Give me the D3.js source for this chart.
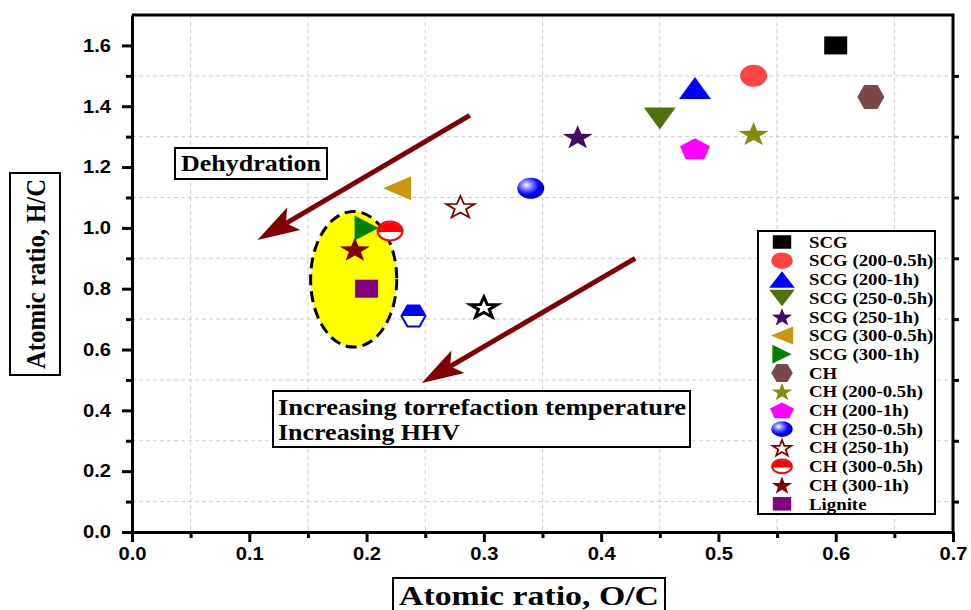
<!DOCTYPE html>
<html>
<head>
<meta charset="utf-8">
<script src="https://cdn.jsdelivr.net/npm/d3@7"></script>
<style>
  body { margin: 0; background: #fff; }
  svg { display: block; }
</style>
</head>
<body>
<svg id="chart" width="971" height="610"></svg>
<script>
// ---- data -------------------------------------------------------------
const seriesNames = [
  "SCG", "SCG (200-0.5h)", "SCG (200-1h)", "SCG (250-0.5h)", "SCG (250-1h)",
  "SCG (300-0.5h)", "SCG (300-1h)", "CH", "CH (200-0.5h)", "CH (200-1h)",
  "CH (250-0.5h)", "CH (250-1h)", "CH (300-0.5h)", "CH (300-1h)", "Lignite"
];
const ocRatio = [0.60, 0.53, 0.48, 0.45, 0.38, 0.226, 0.20, 0.63, 0.53, 0.48, 0.34, 0.28, 0.22, 0.19, 0.20];
const hcRatio = [1.60, 1.50, 1.46, 1.36, 1.30, 1.13, 1.00, 1.43, 1.31, 1.26, 1.13, 1.07, 0.99, 0.93, 0.80];

// two further samples plotted without a legend entry
const extraOC = [0.24, 0.30];
const extraHC = [0.71, 0.74];

const xTicks = [0.0, 0.1, 0.2, 0.3, 0.4, 0.5, 0.6, 0.7];
const yTicks = [0.0, 0.2, 0.4, 0.6, 0.8, 1.0, 1.2, 1.4, 1.6];
const xMinor = [0.05, 0.15, 0.25, 0.35, 0.45, 0.55, 0.65];
const yMinor = [0.1, 0.3, 0.5, 0.7, 0.9, 1.1, 1.3, 1.5];

// annotation geometry in data units
const arrowFrom = [[0.288, 1.37], [0.429, 0.90]];
const arrowTo   = [[0.107, 0.96], [0.247, 0.49]];
const regionCenter = [0.189, 0.831];
const regionRadius = [0.0367, 0.223];

// ---- marker styles ------------------------------------------------------
const DARKRED = "#800000";
const markerStyle = [
  { shape: "square",   fill: "#000000" },
  { shape: "circle",   fill: "#ff4444" },
  { shape: "triUp",    fill: "#0000ff" },
  { shape: "triDown",  fill: "#4f7210" },
  { shape: "star",     fill: "#3f0b63" },
  { shape: "triLeft",  fill: "#c9960f" },
  { shape: "triRight", fill: "#008000" },
  { shape: "hex",      fill: "#7a4848" },
  { shape: "star",     fill: "#878a0e" },
  { shape: "pent",     fill: "#ff00ff" },
  { shape: "sphere",   fill: "#0000ff" },
  { shape: "starOpen", fill: "#ffffff", stroke: DARKRED },
  { shape: "halfCircle", fill: "#ff0000" },
  { shape: "star",     fill: DARKRED },
  { shape: "square",   fill: "#800080" }
];
const extraStyle = [
  { shape: "halfHex",  fill: "#0000ff" },
  { shape: "starOpen", fill: "#ffffff", stroke: "#000000", sw: 3 }
];
const shapeSize = {
  square: [23, 18], circle: [27, 22], triUp: [32, 22], triDown: [32, 22],
  star: [30, 23], starOpen: [30, 23], triLeft: [28, 24], triRight: [24, 25],
  hex: [27, 24], pent: [30, 21], sphere: [27, 21], halfCircle: [27, 21],
  halfHex: [26, 23]
};

// ---- layout -------------------------------------------------------------
const plot = { left: 132, right: 953, top: 15, bottom: 532 };
const svg = d3.select("#chart");
const x = d3.scaleLinear().domain([0, 0.7]).range([plot.left, plot.right]);
const y = d3.scaleLinear().domain([0, 1.7]).range([plot.bottom, plot.top]);

const SERIF = "'Liberation Serif', 'Times New Roman', serif";
const SANS = "'Liberation Sans', Arial, sans-serif";

function stretch(sel, f) {
  sel.each(function () {
    const w = this.getComputedTextLength();
    this.setAttribute("textLength", w * f);
    this.setAttribute("lengthAdjust", "spacingAndGlyphs");
  });
}

// polygon fitted into a w x h box centred on 0,0
function fitPolygon(pts, w, h) {
  const xs = pts.map(p => p[0]), ys = pts.map(p => p[1]);
  const x0 = d3.min(xs), x1 = d3.max(xs), y0 = d3.min(ys), y1 = d3.max(ys);
  return pts.map(p => [
    ((p[0] - x0) / (x1 - x0) - 0.5) * w,
    ((p[1] - y0) / (y1 - y0) - 0.5) * h
  ]);
}
function polyPath(pts) {
  return "M" + pts.map(p => p[0].toFixed(2) + "," + p[1].toFixed(2)).join("L") + "Z";
}
function starPoints() {
  const pts = [];
  for (let i = 0; i < 10; i++) {
    const r = i % 2 === 0 ? 1 : 0.4;
    const a = -Math.PI / 2 + i * Math.PI / 5;
    pts.push([r * Math.cos(a), r * Math.sin(a)]);
  }
  return pts;
}
function pentPoints() {
  const pts = [];
  for (let i = 0; i < 5; i++) {
    const a = -Math.PI / 2 + i * 2 * Math.PI / 5;
    pts.push([Math.cos(a), Math.sin(a)]);
  }
  return pts;
}
const hexPts = [[-1, 0], [-0.5, -1], [0.5, -1], [1, 0], [0.5, 1], [-0.5, 1]];

// sphere shading
const defs = svg.append("defs");
const grad = defs.append("radialGradient").attr("id", "sphereBlue")
  .attr("cx", "38%").attr("cy", "38%").attr("r", "62%").attr("fx", "33%").attr("fy", "33%");
grad.append("stop").attr("offset", "0%").attr("stop-color", "#ffffff");
grad.append("stop").attr("offset", "28%").attr("stop-color", "#8f8fff");
grad.append("stop").attr("offset", "70%").attr("stop-color", "#0000ff");
grad.append("stop").attr("offset", "100%").attr("stop-color", "#0000c8");

function drawMarker(g, style, w, h) {
  const s = style.shape;
  if (s === "square") {
    g.append("rect").attr("x", -w / 2).attr("y", -h / 2).attr("width", w).attr("height", h)
      .attr("fill", style.fill);
  } else if (s === "circle") {
    g.append("ellipse").attr("rx", w / 2).attr("ry", h / 2).attr("fill", style.fill);
  } else if (s === "sphere") {
    g.append("ellipse").attr("rx", w / 2).attr("ry", h / 2).attr("fill", "url(#sphereBlue)");
  } else if (s === "halfCircle") {
    const rx = w / 2 - 1, ry = h / 2 - 1;
    g.append("ellipse").attr("rx", rx).attr("ry", ry).attr("fill", "#fff");
    g.append("path").attr("d", `M${-rx},1A${rx},${ry} 0 0 1 ${rx},1Z`).attr("fill", style.fill);
    g.append("ellipse").attr("rx", rx).attr("ry", ry).attr("fill", "none")
      .attr("stroke", style.fill).attr("stroke-width", 2);
  } else if (s === "hex") {
    g.append("path").attr("d", polyPath(fitPolygon(hexPts, w, h))).attr("fill", style.fill);
  } else if (s === "halfHex") {
    const pts = fitPolygon(hexPts, w - 2, h - 2);
    g.append("path").attr("d", polyPath(pts)).attr("fill", "#fff");
    g.append("path").attr("d", polyPath([pts[0], pts[1], pts[2], pts[3]])).attr("fill", style.fill);
    g.append("path").attr("d", polyPath(pts)).attr("fill", "none")
      .attr("stroke", style.fill).attr("stroke-width", 2);
  } else if (s === "pent") {
    g.append("path").attr("d", polyPath(fitPolygon(pentPoints(), w, h))).attr("fill", style.fill);
  } else if (s === "star") {
    g.append("path").attr("d", polyPath(fitPolygon(starPoints(), w, h))).attr("fill", style.fill);
  } else if (s === "starOpen") {
    const sw = style.sw || 1.8;
    g.append("path").attr("d", polyPath(fitPolygon(starPoints(), w - sw, h - sw)))
      .attr("fill", style.fill).attr("stroke", style.stroke).attr("stroke-width", sw)
      .attr("stroke-linejoin", "miter");
  } else {
    let pts;
    if (s === "triUp") pts = [[0, -h / 2], [w / 2, h / 2], [-w / 2, h / 2]];
    if (s === "triDown") pts = [[-w / 2, -h / 2], [w / 2, -h / 2], [0, h / 2]];
    if (s === "triLeft") pts = [[-w / 2, 0], [w / 2, -h / 2], [w / 2, h / 2]];
    if (s === "triRight") pts = [[-w / 2, -h / 2], [w / 2, 0], [-w / 2, h / 2]];
    g.append("path").attr("d", polyPath(pts)).attr("fill", style.fill);
  }
}

// ---- grid (dashed, at the minor positions) -------------------------------
const grid = svg.append("g").attr("stroke", "#cfcfcf").attr("stroke-width", 1)
  .attr("stroke-dasharray", "4,3");
grid.selectAll("line.v").data(xMinor).join("line").attr("class", "v")
  .attr("x1", d => x(d)).attr("x2", d => x(d)).attr("y1", plot.top).attr("y2", plot.bottom);
grid.selectAll("line.h").data(yMinor).join("line").attr("class", "h")
  .attr("y1", d => y(d)).attr("y2", d => y(d)).attr("x1", plot.left).attr("x2", plot.right);

// ---- highlighted region --------------------------------------------------
svg.append("ellipse")
  .attr("cx", x(regionCenter[0])).attr("cy", y(regionCenter[1]))
  .attr("rx", x(regionCenter[0] + regionRadius[0]) - x(regionCenter[0]))
  .attr("ry", y(regionCenter[1]) - y(regionCenter[1] + regionRadius[1]))
  .attr("fill", "#ffff00").attr("stroke", "#000").attr("stroke-width", 3)
  .attr("stroke-dasharray", "11,6");

// ---- arrows ---------------------------------------------------------------
const arrows = svg.append("g");
arrowFrom.forEach((f, i) => {
  const x0 = x(f[0]), y0 = y(f[1]), x1 = x(arrowTo[i][0]), y1 = y(arrowTo[i][1]);
  const len = Math.hypot(x1 - x0, y1 - y0);
  const ux = (x1 - x0) / len, uy = (y1 - y0) / len;
  const px = -uy, py = ux;
  const headLen = 42, halfW = 13, notch = 9;
  const bx = x1 - ux * headLen, by = y1 - uy * headLen;
  arrows.append("line")
    .attr("x1", x0).attr("y1", y0).attr("x2", bx + ux * notch).attr("y2", by + uy * notch)
    .attr("stroke", DARKRED).attr("stroke-width", 5);
  arrows.append("path").attr("fill", DARKRED)
    .attr("d", polyPath([
      [x1, y1],
      [bx + px * halfW, by + py * halfW],
      [bx + ux * notch, by + uy * notch],
      [bx - px * halfW, by - py * halfW]
    ]));
});

// ---- axes ---------------------------------------------------------------
const fmt = d3.format(".1f");
const axL = svg.append("g").attr("transform", `translate(${plot.left},0)`)
  .call(d3.axisLeft(y).tickValues(yTicks).tickFormat(fmt).tickSize(10).tickSizeOuter(0).tickPadding(11));
svg.append("g").attr("transform", `translate(${plot.left},0)`)
  .call(d3.axisLeft(y).tickValues(yMinor).tickFormat("").tickSize(6).tickSizeOuter(0))
  .call(g => g.select(".domain").remove());
const axB = svg.append("g").attr("transform", `translate(0,${plot.bottom})`)
  .call(d3.axisBottom(x).tickValues(xTicks).tickFormat(fmt).tickSize(10).tickSizeOuter(0).tickPadding(5));
svg.append("g").attr("transform", `translate(0,${plot.bottom})`)
  .call(d3.axisBottom(x).tickValues(xMinor).tickFormat("").tickSize(6).tickSizeOuter(0))
  .call(g => g.select(".domain").remove());
svg.append("g").attr("transform", `translate(${plot.right},0)`)
  .call(d3.axisRight(y).tickValues(yMinor).tickFormat("").tickSize(6).tickSizeOuter(0))
  .call(g => g.select(".domain").remove());

svg.selectAll(".tick line").attr("stroke", "#000").attr("stroke-width", 3);
svg.selectAll(".domain").attr("stroke", "#000").attr("stroke-width", 3);
[axL, axB].forEach(a => a.selectAll("text")
  .attr("font-family", SANS).attr("font-weight", "bold").attr("font-size", 18).attr("fill", "#000"));
stretch(axL.selectAll("text"), 1.12);
stretch(axB.selectAll("text"), 1.12);

// frame: top and right edges
svg.append("path")
  .attr("d", `M${plot.left},${plot.top}H${plot.right}V${plot.bottom}`)
  .attr("fill", "none").attr("stroke", "#000").attr("stroke-width", 3);

// ---- points -------------------------------------------------------------
const pts = svg.append("g");
ocRatio.forEach((v, i) => {
  const st = markerStyle[i];
  const [w, h] = shapeSize[st.shape];
  drawMarker(pts.append("g").attr("transform", `translate(${x(v)},${y(hcRatio[i])})`), st, w, h);
});
extraOC.forEach((v, i) => {
  const st = extraStyle[i];
  const [w, h] = shapeSize[st.shape];
  drawMarker(pts.append("g").attr("transform", `translate(${x(v)},${y(extraHC[i])})`), st, w, h);
});

// ---- legend -------------------------------------------------------------
const legend = svg.append("g");
legend.append("rect").attr("x", 758).attr("y", 231).attr("width", 177).attr("height", 283)
  .attr("fill", "#fff").attr("stroke", "#000").attr("stroke-width", 2);
seriesNames.forEach((name, i) => {
  const cy = 242 + i * 18.7;
  const st = markerStyle[i];
  const [w, h] = shapeSize[st.shape];
  const isStar = st.shape.startsWith("star");
  drawMarker(legend.append("g").attr("transform", `translate(782,${cy})`), st,
    w * (isStar ? 0.68 : 0.8), h * 0.75);
  legend.append("text").attr("x", 809).attr("y", cy).attr("dy", "0.35em")
    .attr("font-family", SERIF).attr("font-weight", "bold").attr("font-size", 16.5)
    .attr("fill", "#000").text(name);
});
stretch(legend.selectAll("text"), 1.14);

// ---- annotation boxes -----------------------------------------------------
function textBox(x0, y0, w, h) {
  svg.append("rect").attr("x", x0).attr("y", y0).attr("width", w).attr("height", h)
    .attr("fill", "#fff").attr("stroke", "#000").attr("stroke-width", 2);
}
textBox(175, 148, 152, 31);
svg.append("text").attr("x", 251).attr("y", 171).attr("text-anchor", "middle")
  .attr("font-family", SERIF).attr("font-weight", "bold").attr("font-size", 24)
  .attr("textLength", 140).attr("lengthAdjust", "spacingAndGlyphs").text("Dehydration");

textBox(273, 391, 417, 56);
svg.append("text").attr("x", 278).attr("y", 415)
  .attr("font-family", SERIF).attr("font-weight", "bold").attr("font-size", 24)
  .attr("textLength", 408).attr("lengthAdjust", "spacingAndGlyphs")
  .text("Increasing torrefaction temperature");
svg.append("text").attr("x", 278).attr("y", 440)
  .attr("font-family", SERIF).attr("font-weight", "bold").attr("font-size", 24)
  .attr("textLength", 182).attr("lengthAdjust", "spacingAndGlyphs")
  .text("Increasing HHV");

// ---- axis titles ----------------------------------------------------------
textBox(10, 173, 50, 202);
svg.append("text").attr("transform", "translate(45,274) rotate(-90)").attr("text-anchor", "middle")
  .attr("font-family", SERIF).attr("font-weight", "bold").attr("font-size", 28)
  .attr("textLength", 190).attr("lengthAdjust", "spacingAndGlyphs")
  .text("Atomic ratio, H/C");

textBox(393, 578, 272, 40);
svg.append("text").attr("x", 529).attr("y", 605).attr("text-anchor", "middle")
  .attr("font-family", SERIF).attr("font-weight", "bold").attr("font-size", 28)
  .attr("textLength", 260).attr("lengthAdjust", "spacingAndGlyphs")
  .text("Atomic ratio, O/C");
</script>
</body>
</html>
